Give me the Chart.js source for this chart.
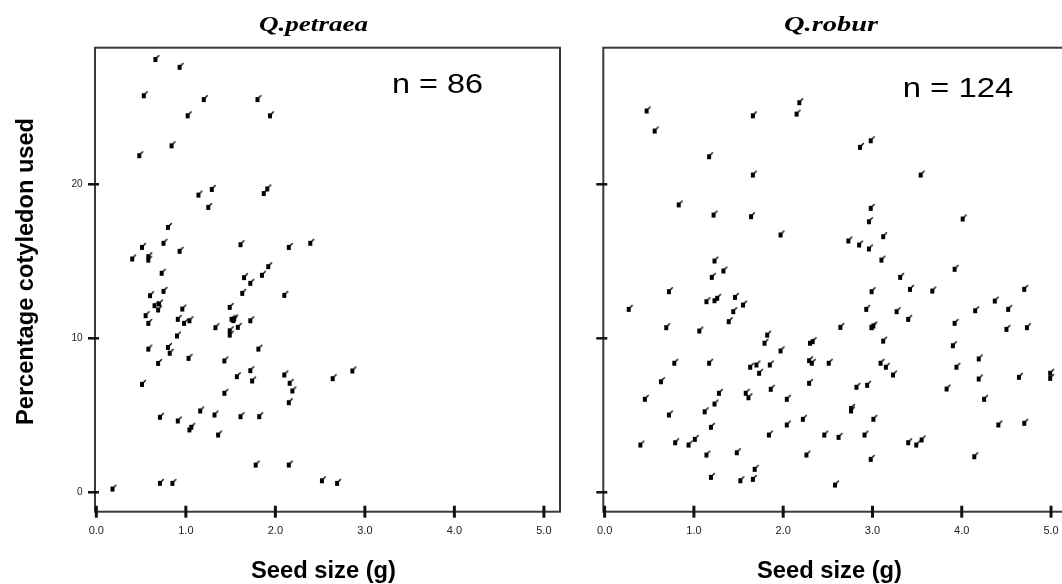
<!DOCTYPE html>
<html>
<head>
<meta charset="utf-8">
<script src="https://cdn.jsdelivr.net/npm/chart.js@4"></script>
<style>
  html, body { margin: 0; padding: 0; background: #fff; overflow: hidden; }
  #wrap { position: relative; width: 1062px; height: 584px; overflow: hidden; background: #fff; }
  #c1 { position: absolute; left: 0; top: 0; width: 580px; height: 584px; }
  #c2 { position: absolute; left: 580px; top: 0; width: 500px; height: 584px; }
</style>
</head>
<body>
<div id="wrap">
  <canvas id="c1" width="580" height="584"></canvas>
  <canvas id="c2" width="500" height="584"></canvas>
</div>
<script>
// seed size (g) and % cotyledon used
const petraeaSize = [
  0.66, 0.93, 0.53, 1.20, 1.80, 1.02, 1.94, 0.84, 0.48, 1.14, 1.29, 1.25, 1.87, 1.91, 0.80,
  0.51, 0.75, 0.93, 0.40, 0.58, 0.58, 1.61, 2.15, 2.39,
  0.73, 1.92, 1.85, 1.65, 1.72, 0.75, 0.60, 1.63, 2.10,
  0.65, 0.70, 0.69, 0.96, 0.55, 0.58, 0.91, 0.98, 1.04, 1.49, 1.51, 1.54, 1.53, 1.72, 1.33, 1.58, 1.49, 1.49, 0.90,
  0.58, 0.80, 0.82, 1.03, 1.81, 0.69, 1.43, 1.57, 1.72, 1.74, 2.10, 2.16, 2.19, 2.15, 2.64, 2.86, 0.51, 1.43,
  0.71, 0.91, 1.16, 1.32, 1.61, 1.82, 1.04, 1.06, 1.36,
  1.78, 2.15, 0.18, 0.71, 0.85, 2.52, 2.69
];
const petraeaUsed = [
  28.1, 27.6, 25.75, 25.5, 25.5, 24.45, 24.45, 22.5, 21.86, 19.3, 19.67, 18.5, 19.4, 19.7, 17.2,
  15.9, 16.17, 15.65, 15.15, 15.3, 15.08, 16.08, 15.9, 16.17,
  14.22, 14.65, 14.09, 13.94, 13.57, 13.05, 12.77, 12.92, 12.79,
  12.12, 12.23, 11.84, 11.9, 11.47, 10.97, 11.23, 10.97, 11.14, 12.01, 11.23, 11.26, 11.15, 11.14, 10.69, 10.71, 10.49, 10.21, 10.15,
  9.3, 9.41, 9.03, 8.7, 9.3, 8.37, 8.53, 7.51, 7.9, 7.23, 7.62, 7.08, 6.58, 5.82, 7.38, 7.88, 7.01, 6.43,
  4.87, 4.63, 5.28, 5.02, 4.91, 4.91, 4.05, 4.22, 3.72,
  1.77, 1.77, 0.21, 0.58, 0.58, 0.75, 0.58
];

const roburSize = [
  0.47, 0.56, 1.66, 2.18, 2.15, 1.17, 2.86, 2.98, 1.66, 3.54, 0.83, 1.22, 1.64, 2.98, 2.96, 4.01,
  1.97, 2.73, 2.85, 2.96, 3.12, 1.23, 1.33, 3.10, 3.92,
  1.20, 0.72, 1.14, 1.23, 1.26, 1.46, 1.55, 1.44, 1.39, 0.27, 0.69, 1.06, 1.82, 1.79, 1.97,
  2.30, 2.33, 2.64, 2.99, 2.93, 2.99, 3.01, 3.12, 2.99,
  3.31, 3.42, 3.67, 3.27, 3.40, 3.92, 3.90, 4.15, 4.37, 4.52, 4.70, 4.50, 4.73,
  0.78, 1.17, 1.63, 1.70, 1.73, 1.85, 2.29, 2.32, 2.51, 3.09, 3.15, 3.23, 3.94, 4.19, 4.19, 4.64, 4.99, 4.99,
  0.63, 0.45, 1.28, 1.23, 1.58, 1.61, 1.86, 2.29, 2.04, 2.82, 2.94, 3.83, 4.25,
  0.72, 1.12, 1.19, 2.76, 2.76, 3.01, 2.04, 2.22, 4.41, 4.70,
  0.40, 0.79, 0.94, 1.01, 1.84, 2.46, 2.62, 2.91, 3.40, 3.49, 3.55,
  1.14, 1.48, 2.26, 2.98, 4.14, 1.19, 1.52, 1.66, 1.68, 2.58
];
const roburUsed = [
  24.76, 23.46, 24.45, 25.3, 24.56, 21.79, 22.4, 22.83, 20.6, 20.6, 18.66, 18.0, 17.9, 18.44, 17.57, 17.75,
  16.71, 16.32, 16.06, 15.8, 16.6, 15.02, 14.37, 15.08, 14.48,
  13.96, 13.03, 12.38, 12.44, 12.6, 12.66, 12.16, 11.73, 11.08, 11.88, 10.69, 10.47, 10.21, 9.68, 9.18,
  9.68, 9.78, 10.71, 13.03, 11.88, 10.69, 10.8, 9.82, 10.72,
  13.96, 13.18, 13.07, 11.73, 11.23, 10.97, 9.52, 11.79, 12.42, 11.88, 13.18, 10.58, 10.69,
  8.38, 8.38, 8.12, 8.27, 7.73, 8.27, 8.55, 8.38, 8.38, 8.38, 8.12, 7.62, 8.12, 8.66, 7.36, 7.47, 7.73, 7.4,
  7.18, 6.04, 6.43, 5.73, 6.43, 6.14, 6.69, 7.08, 6.04, 6.82, 6.95, 6.71, 6.04,
  5.02, 5.23, 4.22, 5.45, 5.28, 4.74, 4.37, 4.74, 4.37, 4.48,
  3.07, 3.22, 3.07, 3.44, 3.72, 3.72, 3.57, 3.72, 3.22, 3.07, 3.4,
  2.42, 2.57, 2.42, 2.14, 2.31, 0.97, 0.75, 0.84, 1.49, 0.47
];

const xTicks = [0, 1, 2, 3, 4, 5];
const yTicks = [0, 10, 20];
const xMin = -0.015, xMax = 5.18;
const yMin = -1.26, yMax = 28.87;

// little black square with a tick, like the SPSS marker
function makeMarker() {
  const c = document.createElement('canvas');
  c.width = 10; c.height = 11;
  const g = c.getContext('2d');
  g.fillStyle = '#000';
  g.fillRect(3, 3, 4, 5);
  g.strokeStyle = '#000';
  g.lineWidth = 1.3;
  g.beginPath();
  g.moveTo(6.5, 3.5);
  g.lineTo(8.8, 1.2);
  g.stroke();
  return c;
}
const marker = makeMarker();

function drawFitted(ctx, text, x, y, font, width, rotate) {
  ctx.save();
  ctx.font = font;
  const w = ctx.measureText(text).width;
  ctx.translate(x, y);
  if (rotate) ctx.rotate(-Math.PI / 2);
  ctx.scale(width / w, 1);
  ctx.fillStyle = '#000';
  ctx.textAlign = 'center';
  ctx.textBaseline = 'alphabetic';
  ctx.fillText(text, 0, 0);
  ctx.restore();
}

const framePlugin = {
  id: 'panel',
  afterDraw(chart, args, opts) {
    const ctx = chart.ctx;
    const a = chart.chartArea;
    const xs = chart.scales.x, ys = chart.scales.y;
    ctx.save();
    ctx.strokeStyle = '#3a3a3a';
    ctx.lineWidth = 2;
    ctx.strokeRect(a.left, a.top, a.right - a.left, a.bottom - a.top);
    ctx.strokeStyle = '#111';
    ctx.lineWidth = 3;
    xTicks.forEach(v => {
      const px = xs.getPixelForValue(v);
      ctx.beginPath();
      ctx.moveTo(px, a.bottom - 6);
      ctx.lineTo(px, a.bottom + 6);
      ctx.stroke();
    });
    ctx.lineWidth = 2.5;
    yTicks.forEach(v => {
      const py = ys.getPixelForValue(v);
      ctx.beginPath();
      ctx.moveTo(a.left - 7, py);
      ctx.lineTo(a.left + 4, py);
      ctx.stroke();
    });
    ctx.restore();

    drawFitted(ctx, opts.title, opts.titleX, 31, 'bold italic 22px "Liberation Serif"', opts.titleW, false);
    drawFitted(ctx, opts.n, opts.nX, opts.nY, '28px "Liberation Sans"', opts.nW, false);
    drawFitted(ctx, 'Seed size (g)', opts.xLabelX, 577.5, 'bold 24px "Liberation Sans"', 145, false);
    if (opts.yLabel) {
      drawFitted(ctx, opts.yLabel, 33, 271.5, 'bold 24px "Liberation Sans"', 307, true);
    }
  }
};

function makeChart(id, size, used, axisLeft, padRight, showY, panel) {
  const points = size.map((s, i) => ({ x: s, y: used[i] }));
  return new Chart(document.getElementById(id), {
    type: 'scatter',
    data: {
      datasets: [{
        data: points,
        pointStyle: marker,
        pointRadius: 5,
        pointHoverRadius: 5
      }]
    },
    options: {
      responsive: false,
      animation: false,
      layout: { padding: { left: 0, top: 47.7, right: padRight, bottom: 0 } },
      plugins: {
        legend: { display: false },
        tooltip: { enabled: false },
        panel: panel
      },
      scales: {
        x: {
          type: 'linear',
          min: xMin,
          max: xMax,
          grid: { display: false, drawTicks: false },
          border: { display: false },
          afterBuildTicks: s => { s.ticks = xTicks.map(v => ({ value: v })); },
          afterFit: s => { s.height = 72.3; },
          ticks: {
            autoSkip: false,
            maxRotation: 0,
            padding: 13,
            color: '#222',
            font: { family: '"Liberation Sans"', size: 11 },
            callback: v => Number(v).toFixed(1)
          }
        },
        y: {
          type: 'linear',
          min: yMin,
          max: yMax,
          grid: { display: false, drawTicks: false },
          border: { display: false },
          afterBuildTicks: s => { s.ticks = yTicks.map(v => ({ value: v })); },
          afterFit: s => { s.width = axisLeft; },
          ticks: {
            display: showY,
            padding: 12.5,
            color: '#222',
            font: { family: '"Liberation Sans"', size: 10 },
            callback: v => String(v)
          }
        }
      }
    },
    plugins: [framePlugin]
  });
}

makeChart('c1', petraeaSize, petraeaUsed, 95, 20, true, {
  title: 'Q.petraea', titleX: 313.5, titleW: 109,
  n: 'n = 86', nX: 437.5, nY: 93, nW: 91,
  xLabelX: 323.5,
  yLabel: 'Percentage cotyledon used'
});
makeChart('c2', roburSize, roburUsed, 23.3, 12.9, false, {
  title: 'Q.robur', titleX: 251, titleW: 94,
  n: 'n = 124', nX: 378, nY: 97.3, nW: 110.7,
  xLabelX: 249.5,
  yLabel: null
});
</script>
</body>
</html>
